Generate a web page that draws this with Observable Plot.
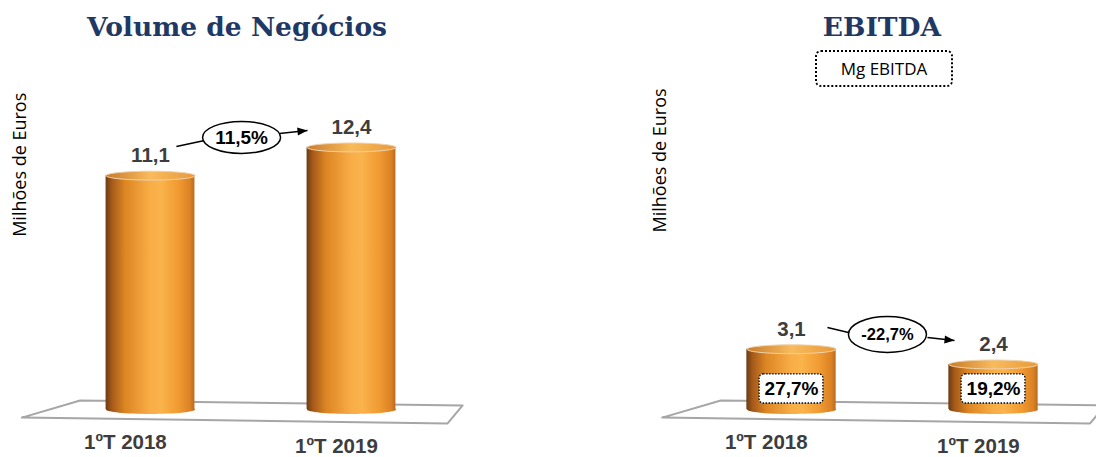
<!DOCTYPE html>
<html>
<head>
<meta charset="utf-8">
<script src="https://cdn.jsdelivr.net/npm/d3@7"></script>
<script src="https://cdn.jsdelivr.net/npm/@observablehq/plot@0.6"></script>
<style>
  html, body { margin: 0; padding: 0; background: #fff; }
  #wrap { position: relative; width: 1096px; height: 457px; overflow: hidden; background: #fff; }
  .panel { position: absolute; top: 0; width: 548px; height: 457px; }
  .title { position: absolute; top: 9px; font-family: "DejaVu Serif", serif; font-weight: bold; font-size: 26.5px; line-height: 36px; color: #1f3864; text-align: center; white-space: nowrap; }
  .legendbox { position: absolute; left: 815px; top: 50px; width: 134px; height: 33px; border: 2px dotted #000; border-radius: 6px; font-family: "Open Sans", sans-serif; font-size: 17px; line-height: 33px; text-align: center; color: #000; background: #fff; }
</style>
</head>
<body>
<svg width="0" height="0" style="position:absolute">
  <defs>
    <linearGradient id="cylBody" x1="0" x2="1" y1="0" y2="0">
      <stop offset="0" stop-color="#6b3b12"/>
      <stop offset="0.07" stop-color="#a65a1a"/>
      <stop offset="0.22" stop-color="#dc8624"/>
      <stop offset="0.5" stop-color="#f9ad45"/>
      <stop offset="0.62" stop-color="#fbb34b"/>
      <stop offset="0.82" stop-color="#f09a32"/>
      <stop offset="0.95" stop-color="#db8224"/>
      <stop offset="1" stop-color="#b86b22"/>
    </linearGradient>
    <linearGradient id="cylTop" x1="0" x2="1" y1="0" y2="0">
      <stop offset="0" stop-color="#c97b2c"/>
      <stop offset="0.5" stop-color="#f8bb5c"/>
      <stop offset="1" stop-color="#e9993a"/>
    </linearGradient>
  </defs>
</svg>
<div id="wrap"></div>
<script>
// ---------- data ----------
const categories = ["1ºT 2018", "1ºT 2019"];
const volume = [11.1, 12.4];
const ebitda = [3.1, 2.4];
const ebitdaMargin = [27.7, 19.2];
const volumeChange = 11.5;
const ebitdaChange = -22.7;
const titles = ["Volume de Negócios", "EBITDA"];
const yLabel = "Milhões de Euros";
const legendLabel = "Mg EBITDA";

// ---------- helpers ----------
const fmt = v => v.toFixed(1).replace(".", ",");
const pct = v => fmt(v) + "%";

function ellipseSymbol(k) {
  return {
    draw(ctx, size) {
      const rx = Math.sqrt(size / Math.PI), ry = rx * k, c = 0.5523;
      ctx.moveTo(rx, 0);
      ctx.bezierCurveTo(rx, c * ry, c * rx, ry, 0, ry);
      ctx.bezierCurveTo(-c * rx, ry, -rx, c * ry, -rx, 0);
      ctx.bezierCurveTo(-rx, -c * ry, -c * rx, -ry, 0, -ry);
      ctx.bezierCurveTo(c * rx, -ry, rx, -c * ry, rx, 0);
      ctx.closePath();
    }
  };
}
// filled arrow head with its tip at the dot's position, pointing right
const headSymbol = {
  draw(ctx, size) {
    const L = Math.sqrt(size / Math.PI);
    ctx.moveTo(0, 0);
    ctx.lineTo(-2 * L, -0.8 * L);
    ctx.lineTo(-2 * L, 0.8 * L);
    ctx.closePath();
  }
};

// 3D floor outline (in category-index / value units)
const floor = [
  {x: -0.64, y: -0.05}, {x: -0.35, y: 0.74}, {x: 1.553, y: 0.51}, {x: 1.478, y: -0.32}, {x: -0.64, y: -0.05}
];
const HALF = 0.221;      // half bar width (index units)
const BASE = 0.32;       // visual base of cylinders
const labelShift = [-0.125, -0.075];
const labelY = [-1.2, -1.36];
const sans = "Liberation Sans, Arial, sans-serif";

function panel(opts) {
  const rows = categories.map((c, i) => ({cat: c, i, v: opts.values[i], m: opts.margins ? opts.margins[i] : null}));
  const marks = [
    Plot.line(floor, {x: "x", y: "y", stroke: "#a6a6a6", strokeWidth: 2, fill: "#fff"}),
    Plot.dot(rows, {x: "i", y: BASE, r: 44.5, symbol: ellipseSymbol(0.1), fill: "url(#cylBody)"}),
    Plot.rect(rows, {x1: d => d.i - HALF, x2: d => d.i + HALF, y1: BASE, y2: "v", fill: "url(#cylBody)"}),
    Plot.dot(rows, {x: "i", y: "v", r: 44.5, symbol: ellipseSymbol(0.1), fill: "url(#cylTop)", stroke: "#efd3ad", strokeWidth: 1}),
    Plot.text(rows, {x: "i", y: "v", dy: -20, text: d => fmt(d.v), fontSize: 20.5, fontWeight: "bold", fill: "#3d3d3d", fontFamily: sans}),
    Plot.text(rows, {x: d => d.i + labelShift[d.i], y: d => labelY[d.i], text: "cat", fontSize: 20.5, fontWeight: "bold", fill: "#3d3d3d", fontFamily: sans}),
    Plot.text([yLabel], {x: -0.65, y: opts.ylabelY, text: d => d, rotate: -90, fontSize: 18, fill: "#000", fontFamily: "Open Sans, sans-serif"}),
    Plot.link([0], {x1: opts.line[0], y1: opts.line[1], x2: opts.line[2], y2: opts.line[3], stroke: "#000", strokeWidth: 1.5}),
    Plot.link([0], {x1: opts.arrow[0], y1: opts.arrow[1], x2: opts.arrow[2], y2: opts.arrow[3], stroke: "#000", strokeWidth: 1.5}),
    Plot.dot([0], {x: opts.arrow[2], y: opts.arrow[3], r: 5, symbol: headSymbol, rotate: opts.arrow[4], fill: "#000", stroke: "none"}),
    Plot.dot([opts.change], {x: opts.ell[0], y: opts.ell[1], r: 39, symbol: ellipseSymbol(opts.ell[2]), fill: "#fff", stroke: "#000", strokeWidth: 1.5}),
    Plot.text([opts.change], {x: opts.ell[0], y: opts.ell[1], text: d => pct(d), fontSize: opts.changeFont, fontWeight: "bold", fill: "#000", fontFamily: sans})
  ];
  if (opts.margins) {
    marks.push(
      Plot.rect(rows, {x1: d => d.i - 0.158, x2: d => d.i + 0.158, y1: 0.6, y2: 1.94, fill: "#fff", stroke: "#000", strokeWidth: 1.3, strokeDasharray: "1.5 1.5", rx: 4}),
      Plot.text(rows, {x: "i", y: 1.27, text: d => pct(d.m), fontSize: 19, fontWeight: "bold", fill: "#000", fontFamily: sans})
    );
  }
  return Plot.plot({
    width: 548, height: 457, margin: 0,
    x: {type: "linear", domain: opts.xDomain, axis: null},
    y: {domain: [-1.889, 19.171], axis: null},
    style: {background: "transparent", overflow: "visible"},
    marks
  });
}

const wrap = document.getElementById("wrap");

const left = document.createElement("div");
left.className = "panel"; left.style.left = "0px";
left.appendChild(panel({
  values: volume, change: volumeChange, xDomain: [-0.7463, 1.9801],
  ell: [0.453, 12.86, 0.41], line: [0.129, 12.44, 0.269, 12.72], arrow: [0.642, 13.04, 0.781, 13.18, -6],
  ylabelY: 11.6, changeFont: 19
}));
wrap.appendChild(left);

const right = document.createElement("div");
right.className = "panel"; right.style.left = "548px";
right.appendChild(panel({
  values: ebitda, change: ebitdaChange, margins: ebitdaMargin, xDomain: [-1.2030, 1.5099],
  ell: [0.475, 3.78, 0.46], line: [0.178, 4.1, 0.282, 3.87], arrow: [0.673, 3.64, 0.807, 3.50, 6],
  ylabelY: 11.8, changeFont: 16.5
}));
wrap.appendChild(right);

const t1 = document.createElement("div");
t1.className = "title"; t1.style.left = "0px"; t1.style.width = "474px"; t1.textContent = titles[0];
wrap.appendChild(t1);
const t2 = document.createElement("div");
t2.className = "title"; t2.style.left = "732px"; t2.style.width = "300px"; t2.textContent = titles[1];
wrap.appendChild(t2);
const lg = document.createElement("div");
lg.className = "legendbox"; lg.textContent = legendLabel;
wrap.appendChild(lg);
</script>
</body>
</html>
